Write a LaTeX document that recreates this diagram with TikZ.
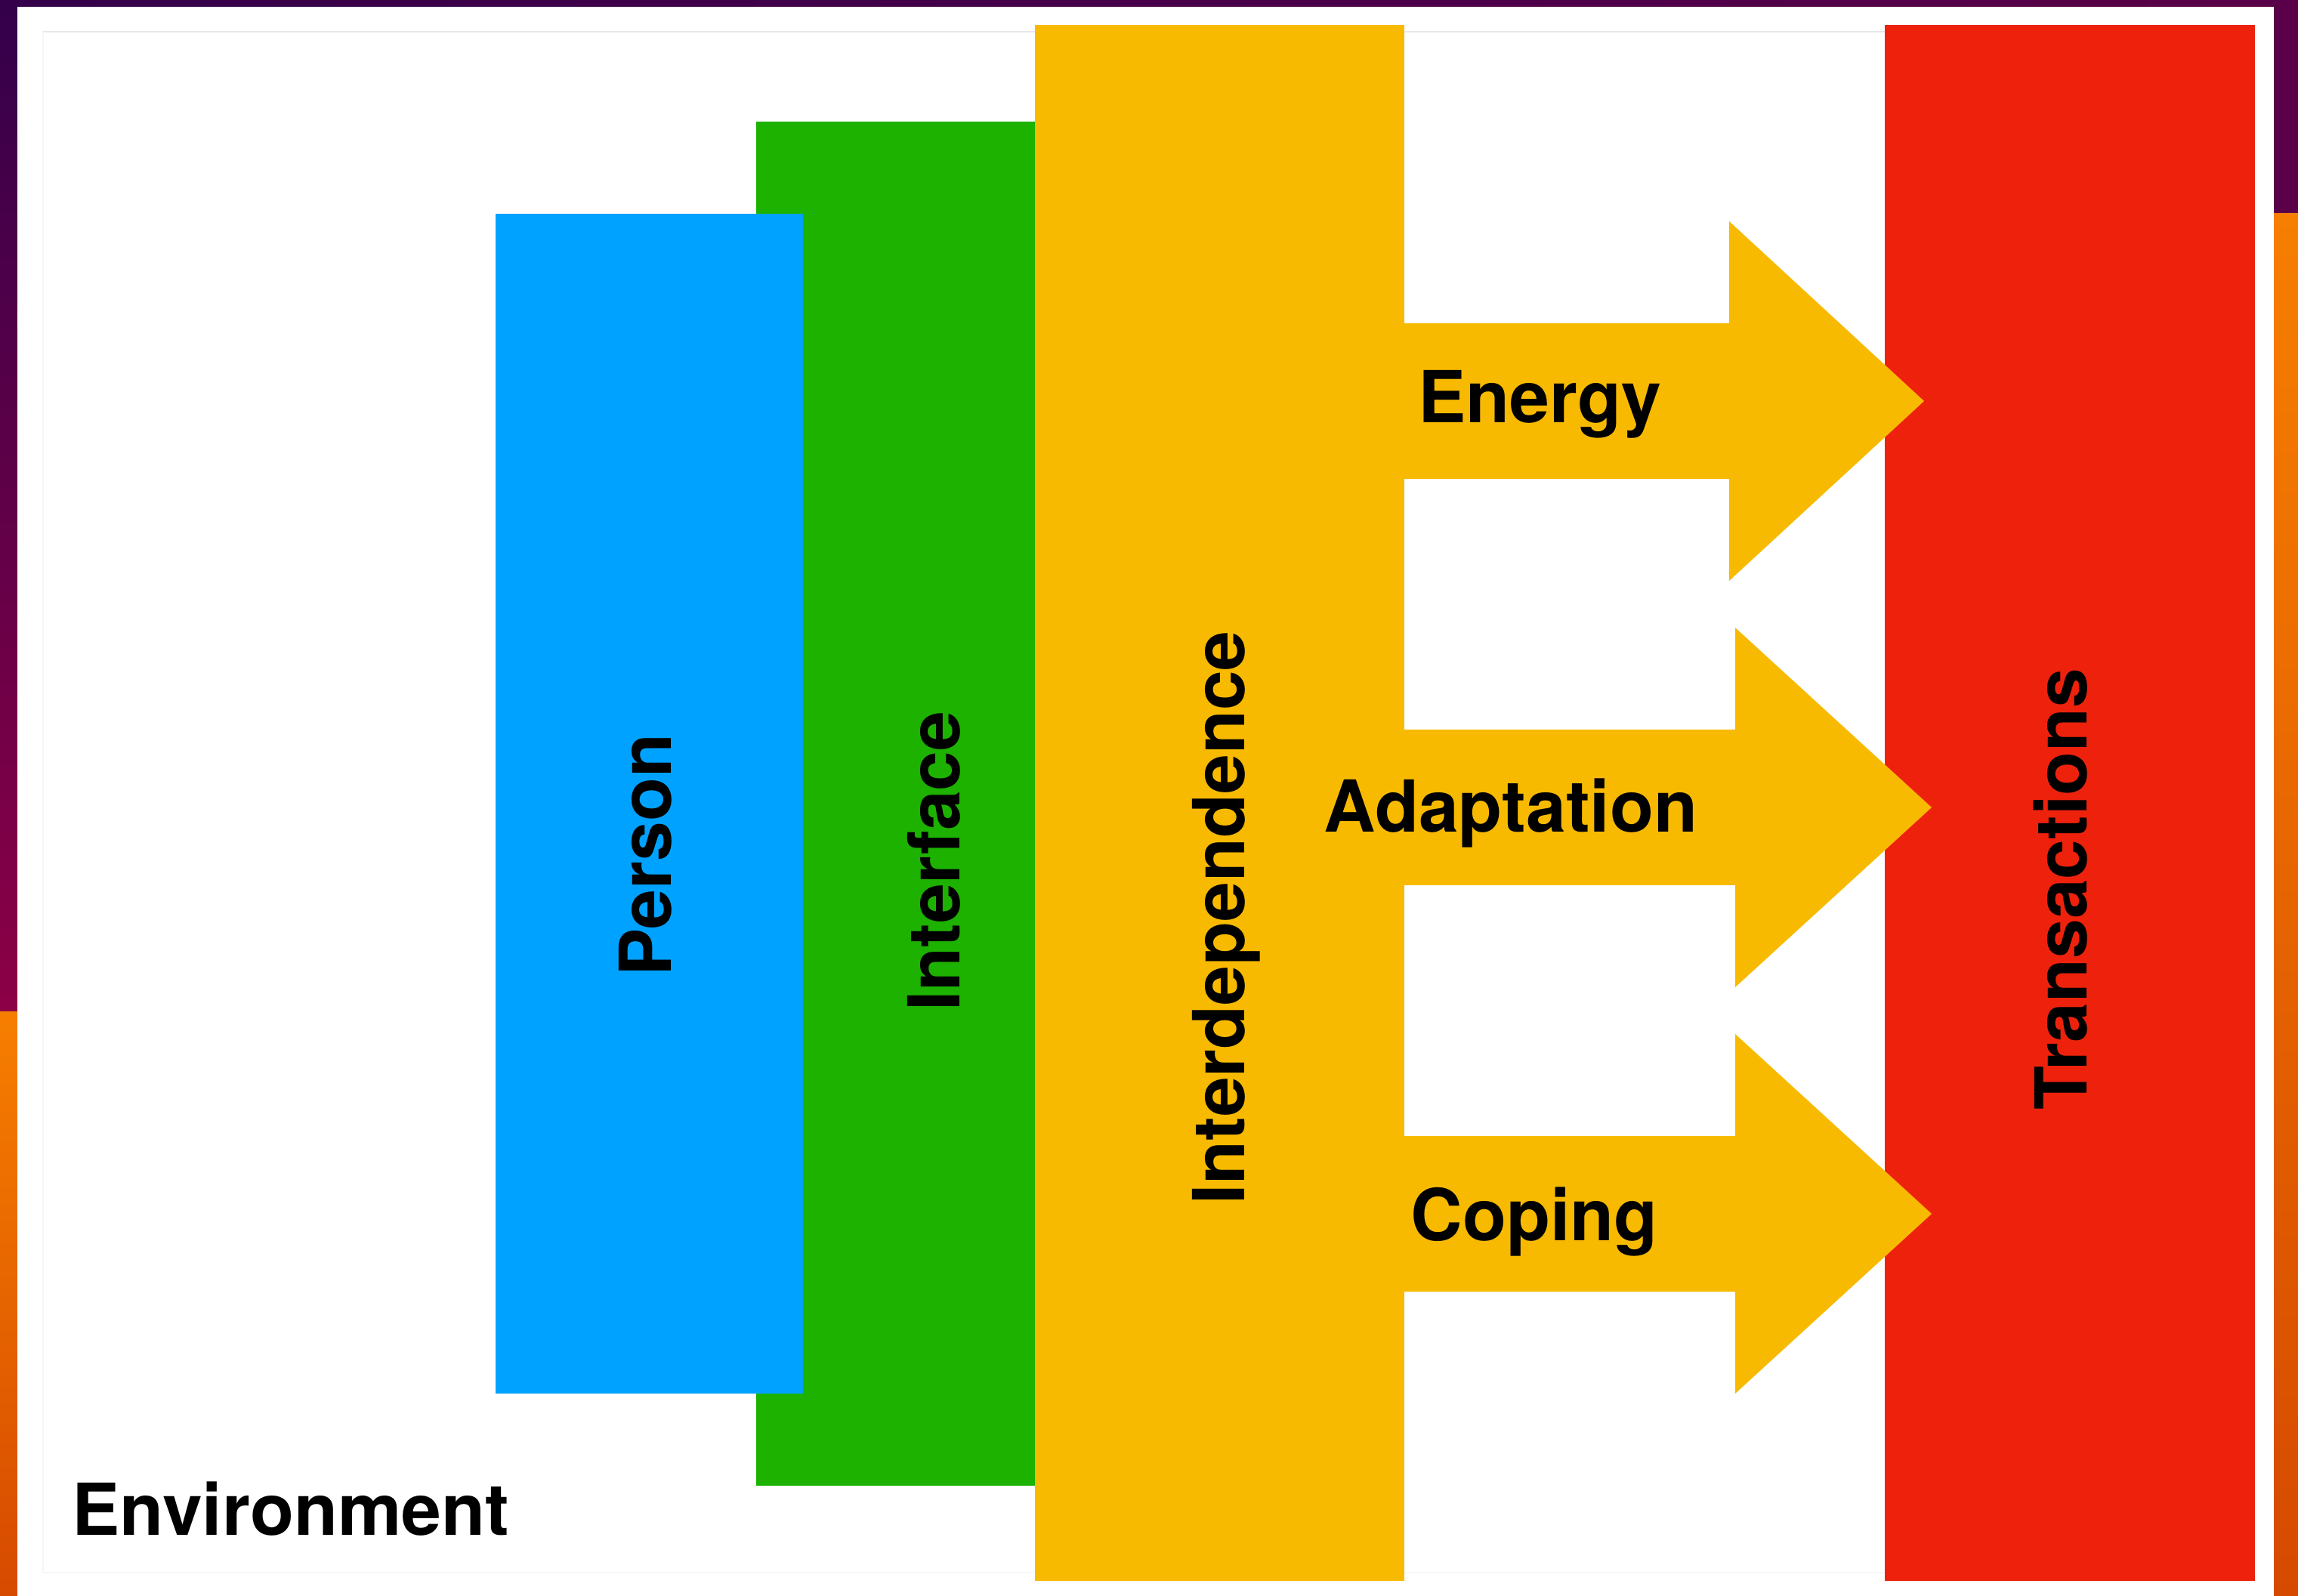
\documentclass[tikz,border=0pt]{standalone}
\usepackage{fontspec}
\setmainfont{TeX Gyre Heros}
\usetikzlibrary{calc}

\definecolor{personblue}{RGB}{0,162,255}
\definecolor{interfacegreen}{RGB}{29,177,0}
\definecolor{interdepyellow}{RGB}{248,186,0}
\definecolor{transred}{RGB}{238,34,12}
\definecolor{wallpurple}{RGB}{52,0,74}
\definecolor{wallplum}{RGB}{90,0,72}
\definecolor{wallcrimson}{RGB}{140,0,70}
\definecolor{wallorange}{RGB}{246,126,0}
\definecolor{wallrust}{RGB}{214,74,0}

\tikzset{
	bigtext/.style={font=\fontsize{27}{32}\selectfont\bfseries, inner sep=0pt, anchor=base},
	uptext/.style={bigtext, rotate=90}
}

\def\flowarrow(#1,#2)(#3,#4){\fill[interdepyellow] (#1,#2+1.03) -- (#3,#2+1.03) -- (#3,#2+2.38) -- (#4,#2) -- (#3,#2-2.38) -- (#3,#2-1.03) -- (#1,#2-1.03) -- cycle}

\begin{document}
\begin{tikzpicture}
				%%%%% WALLPAPER %%%%%
				\useasboundingbox (0,0) rectangle (30.42,21.12);
				\fill[wallpurple] (0,0) rectangle (30.42,21.12);
				\shade[top color=wallpurple, bottom color=wallcrimson] (0,7.72) rectangle (0.23,21.12);
				\shade[top color=wallorange, bottom color=wallrust] (0,0) rectangle (0.23,7.72);
				\shade[left color=wallpurple, right color=wallplum] (0,21.03) rectangle (30.42,21.12);
				\fill[wallplum] (30.10,18.29) rectangle (30.42,21.03);
				\shade[top color=wallorange, bottom color=wallrust] (30.10,0) rectangle (30.42,18.29);
				
				%%%%% SLIDE %%%%%
				\fill[white] (0.23,0) rectangle (30.10,21.03);
				\draw[black!9, line width=0.6pt] (0.57,20.70) -- (29.85,20.70);
				\draw[black!3, line width=0.6pt] (0.57,20.70) -- (0.57,0.30) -- (29.85,0.30);
				
				\fill[interfacegreen] (10.01,1.45) rectangle (13.70,19.51);
				\fill[personblue] (6.56,2.67) rectangle (10.63,18.29);
				\fill[interdepyellow] (13.70,0.19) rectangle (18.59,20.79);
				\fill[transred] (24.95,0.19) rectangle (29.85,20.79);
				
				\flowarrow(18.59,15.81)(22.89,25.47);
				\flowarrow(18.59,10.43)(22.97,25.57);
				\flowarrow(18.59,5.05)(22.97,25.57);
				
				\node[uptext] (person) at (8.88, 9.80) {Person};
				\node[uptext] (interface) at (12.70, 9.72) {Interface};
				\node[uptext] (interdep) at (16.47, 8.97) {Interdependence};
				\node[uptext] (trans) at (27.62, 9.35) {Transactions};
				
				\node[bigtext] (energy) at (20.38, 15.52) {Energy};
				\node[bigtext] (adapt) at (20.00, 10.10) {Adaptation};
				\node[bigtext] (coping) at (20.31, 4.70) {Coping};
				
				\node[bigtext, anchor=base west] (env) at (0.95, 0.80) {Environment};
				%%%%% END %%%%%
\end{tikzpicture}
\end{document}
